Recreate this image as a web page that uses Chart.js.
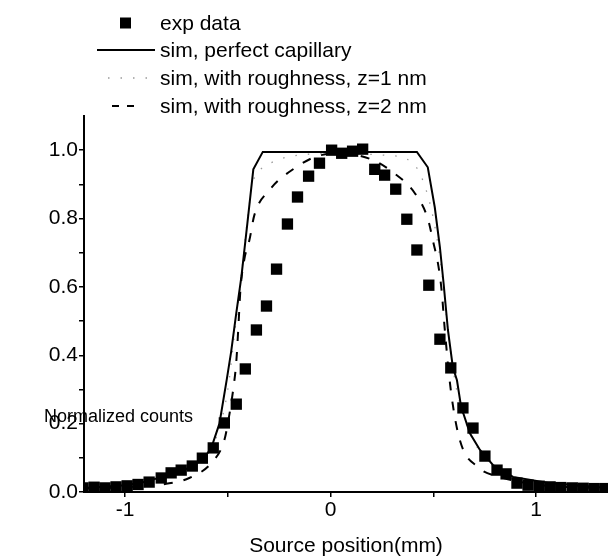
<!DOCTYPE html>
<html>
<head>
<meta charset="utf-8">
<script src="https://cdn.jsdelivr.net/npm/chart.js@4.4.1/dist/chart.umd.min.js"></script>
<style>
  html, body { margin: 0; padding: 0; background: #fff; }
  #wrap { width: 608px; height: 559px; overflow: hidden; }
</style>
</head>
<body>
<div id="wrap"><canvas id="profile" width="608" height="559"></canvas></div>
<script>
// measured profile (squares)
const expX = [-1.205, -1.151, -1.098, -1.044, -0.990, -0.937,
  -0.883, -0.824, -0.776, -0.727, -0.673, -0.624, -0.571, -0.517, -0.459, -0.415,
  -0.361, -0.312, -0.263, -0.210, -0.161, -0.107, -0.054,
  0.005, 0.054, 0.107, 0.156,
  0.215, 0.263, 0.317, 0.371, 0.420, 0.478, 0.532, 0.585, 0.644, 0.693, 0.751, 0.810, 0.854, 0.907,
  0.961, 1.015, 1.068, 1.120, 1.176, 1.229, 1.283, 1.337];
const expY = [0.012, 0.014, 0.012, 0.015, 0.018, 0.022,
  0.029, 0.041, 0.056, 0.064, 0.076, 0.099, 0.129, 0.202, 0.257, 0.360,
  0.474, 0.544, 0.652, 0.784, 0.863, 0.924, 0.962,
  1.000, 0.991, 0.997, 1.003,
  0.944, 0.927, 0.886, 0.798, 0.708, 0.605, 0.447, 0.363, 0.246, 0.187, 0.105, 0.064, 0.053, 0.026,
  0.020, 0.017, 0.015, 0.013, 0.012, 0.011, 0.010, 0.010];

// simulation, perfect capillary
const perfectX = [-1.2, -1.0, -0.9, -0.8, -0.7, -0.65, -0.605, -0.58, -0.541, -0.505, -0.484, -0.459,
  -0.434, -0.405, -0.376, -0.33, 0.42, 0.473, 0.507, 0.532, 0.55, 0.571, 0.595, 0.615, 0.635,
  0.678, 0.727, 0.79, 0.888, 1.068, 1.35];
const perfectY = [0.012, 0.02, 0.03, 0.048, 0.068, 0.084, 0.108, 0.13, 0.2, 0.33, 0.41, 0.523,
  0.63, 0.786, 0.944, 0.995, 0.995, 0.95, 0.833, 0.716, 0.61, 0.474, 0.365, 0.327, 0.25,
  0.172, 0.123, 0.079, 0.044, 0.026, 0.012];

// simulation, roughness z=1 nm
const rough1X = [-1.2, -1.0, -0.8, -0.7, -0.6, -0.54, -0.5, -0.47, -0.44, -0.41, -0.38, -0.33,
  -0.283, -0.21, 0, 0.27, 0.4, 0.45, 0.5, 0.54, 0.57, 0.61, 0.68, 0.8, 1.0, 1.35];
const rough1Y = [0.012, 0.02, 0.045, 0.065, 0.105, 0.19, 0.3, 0.45, 0.6, 0.77, 0.9, 0.95,
  0.965, 0.98, 0.99, 0.985, 0.962, 0.91, 0.8, 0.65, 0.48, 0.31, 0.17, 0.075, 0.03, 0.012];

// simulation, roughness z=2 nm
const rough2X = [-1.2, -1.0, -0.8, -0.688, -0.576, -0.517, -0.493, -0.473, -0.459, -0.449, -0.439,
  -0.42, -0.395, -0.371, -0.298, -0.176, -0.05, 0.05, 0.19, 0.302, 0.41, 0.473, 0.5, 0.525,
  0.541, 0.555, 0.585, 0.629, 0.717, 0.824, 1.0, 1.35];
const rough2Y = [0.01, 0.014, 0.024, 0.041, 0.088, 0.152, 0.225, 0.304, 0.38, 0.48, 0.59,
  0.68, 0.737, 0.81, 0.883, 0.947, 0.985, 0.99, 0.975, 0.936, 0.874, 0.8, 0.73, 0.66,
  0.585, 0.48, 0.298, 0.152, 0.073, 0.044, 0.022, 0.01];

const seriesNames = ['exp data', 'sim, perfect capillary',
  'sim, with roughness, z=1 nm', 'sim, with roughness, z=2 nm'];

const xTicks = [-1, -0.5, 0, 0.5, 1];
const xTickLabels = ['-1', '', '0', '', '1'];
const yTicks = [0, 0.1, 0.2, 0.3, 0.4, 0.5, 0.6, 0.7, 0.8, 0.9, 1.0];
const yTickLabels = ['0.0', '', '0.2', '', '0.4', '', '0.6', '', '0.8', '', '1.0'];

const FONT = '"Liberation Sans", Arial, sans-serif';
const pts = (xs, ys) => xs.map((x, i) => ({ x: x, y: ys[i] }));

// legend rows drawn by hand: sample span + text on the left top
const legendPlugin = {
  id: 'stackLegend',
  afterDraw(chart) {
    const ctx = chart.ctx;
    const rows = [
      { y: 23, from: 120, to: 131 },
      { y: 50, from: 97, to: 155 },
      { y: 78, from: 108, to: 155 },
      { y: 106, from: 112, to: 137 }
    ];
    ctx.save();
    chart.data.datasets.forEach((ds, i) => {
      const r = rows[i];
      if (ds.showLine === false) {
        ctx.fillStyle = ds.backgroundColor;
        ctx.fillRect(r.from, r.y - 5.5, r.to - r.from, 11);
      } else {
        ctx.strokeStyle = ds.borderColor;
        ctx.lineWidth = ds.borderWidth;
        ctx.setLineDash(i === 3 ? [7, 8] : (ds.borderDash || []));
        ctx.beginPath();
        ctx.moveTo(r.from, r.y);
        ctx.lineTo(r.to, r.y);
        ctx.stroke();
        ctx.setLineDash([]);
      }
      ctx.fillStyle = '#000';
      ctx.font = '21px ' + FONT;
      ctx.textBaseline = 'middle';
      ctx.textAlign = 'left';
      ctx.fillText(ds.label, 160, r.y + 1);
    });
    // y title sits horizontally next to the lower ticks
    const y = chart.scales.y.getPixelForValue(0.22);
    ctx.font = '18px ' + FONT;
    ctx.fillText('Normalized counts', 44, y);
    ctx.restore();
  }
};

new Chart(document.getElementById('profile'), {
  type: 'scatter',
  data: {
    datasets: [
      {
        label: seriesNames[0],
        data: pts(expX, expY),
        showLine: false,
        pointStyle: 'rect',
        pointRadius: 8,
        pointBorderWidth: 0,
        backgroundColor: '#000',
        borderColor: '#000'
      },
      {
        label: seriesNames[1],
        data: pts(perfectX, perfectY),
        showLine: true,
        pointRadius: 0,
        borderColor: '#000',
        borderWidth: 2,
        tension: 0
      },
      {
        label: seriesNames[2],
        data: pts(rough1X, rough1Y),
        showLine: true,
        pointRadius: 0,
        borderColor: '#9a9a9a',
        borderWidth: 1.3,
        borderDash: [1.5, 11],
        cubicInterpolationMode: 'monotone'
      },
      {
        label: seriesNames[3],
        data: pts(rough2X, rough2Y),
        showLine: true,
        pointRadius: 0,
        borderColor: '#000',
        borderWidth: 2,
        borderDash: [9, 11],
        cubicInterpolationMode: 'monotone'
      }
    ]
  },
  options: {
    responsive: false,
    animation: false,
    devicePixelRatio: 1,
    layout: { autoPadding: false, padding: { top: 116, left: 0, right: 0, bottom: 0 } },
    plugins: {
      legend: { display: false },
      tooltip: { enabled: false }
    },
    scales: {
      x: {
        type: 'linear',
        min: -1.2,
        max: 1.35,
        afterBuildTicks: s => { s.ticks = xTicks.map(v => ({ value: v })); },
        afterFit: s => { s.height = 67; },
        ticks: {
          color: '#000',
          font: { size: 21, family: FONT },
          padding: 1,
          maxRotation: 0,
          autoSkip: false,
          callback: v => xTickLabels[xTicks.indexOf(v)] ?? ''
        },
        grid: { display: true, drawOnChartArea: false, drawTicks: true, tickLength: 5, color: '#000', lineWidth: 1.5 },
        border: { display: true, color: '#000', width: 2 },
        title: {
          display: true,
          text: 'Source position(mm)',
          color: '#000',
          font: { size: 21, family: FONT },
          padding: { top: 0, bottom: 0 }
        }
      },
      y: {
        type: 'linear',
        min: 0,
        max: 1.1,
        afterBuildTicks: s => { s.ticks = yTicks.map(v => ({ value: v })); },
        afterFit: s => { s.width = 84; },
        ticks: {
          color: '#000',
          font: { size: 21, family: FONT },
          padding: 1,
          autoSkip: false,
          callback: v => yTickLabels[yTicks.indexOf(v)] ?? ''
        },
        grid: { display: true, drawOnChartArea: false, drawTicks: true, tickLength: 5, color: '#000', lineWidth: 1.5 },
        border: { display: true, color: '#000', width: 2 }
      }
    }
  },
  plugins: [legendPlugin]
});
</script>
</body>
</html>
